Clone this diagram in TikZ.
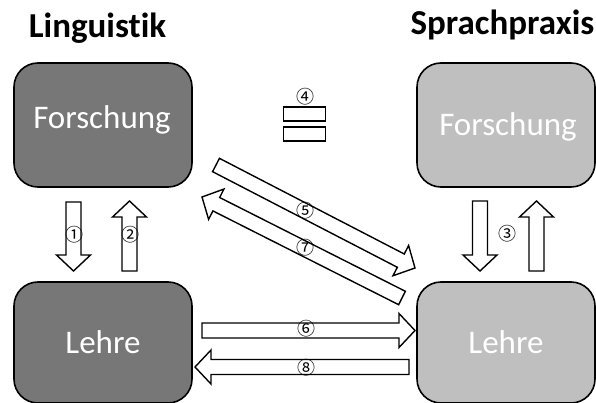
\documentclass[tikz,border=0pt]{standalone}
\usepackage{fontspec}
\setmainfont{Carlito}[Ligatures=NoCommon]
\newfontfamily\circfont{Noto Sans CJK SC}
\usetikzlibrary{calc}

\definecolor{darkbox}{HTML}{777777}
\definecolor{lightbox}{HTML}{BFBFBF}

% Block arrow from coordinate #1 (tail) to coordinate #2 (tip)
\newcommand{\BlockArrow}[2]{%
  \coordinate (hb) at ($(#2)!16pt!(#1)$);
  \draw[blockarrow]
    ($(#1)!7.5pt!90:(#2)$) -- ($(hb)!7.5pt!90:(#2)$) -- ($(hb)!17pt!90:(#2)$)
    -- (#2) -- ($(hb)!17pt!-90:(#2)$) -- ($(hb)!7.5pt!-90:(#2)$)
    -- ($(#1)!7.5pt!-90:(#2)$) -- cycle;%
}

\begin{document}
\begin{tikzpicture}[x=1pt,y=-1pt,
  box/.style={draw=black, line width=1.6pt, rounded corners=24pt},
  boxtext/.style={text=white, font=\fontsize{33}{33}\selectfont},
  title/.style={font=\fontsize{35}{35}\selectfont\bfseries, anchor=base},
  blockarrow/.style={draw=black, fill=white, line width=1.4pt, line join=miter},
  num/.style={font=\circfont\fontsize{18}{18}\selectfont, inner sep=0pt},
  eqbar/.style={draw=black, line width=1.4pt, fill=white}]

\useasboundingbox (0,0) rectangle (596,403);

% titles
\node[title] (tl) at (97.5,38) {Linguistik};
\node[title] (tr) at (502.5,35) {Sprachpraxis};

% boxes
\draw[box, fill=darkbox] (14,63) rectangle (192,187);
\draw[box, fill=darkbox] (14,282) rectangle (192,403);
\draw[box, fill=lightbox] (417,63) rectangle (595,187);
\draw[box, fill=lightbox] (417,282) rectangle (595,403);
\node[boxtext] (lf) at (102,120) {Forschung};
\node[boxtext] (ll) at (103,342) {Lehre};
\node[boxtext] (rf) at (508,127) {Forschung};
\node[boxtext] (rl) at (506,342) {Lehre};

% arrow end points
\coordinate (a1s) at (73.5,202);  \coordinate (a1e) at (73.5,271);
\coordinate (a2s) at (129.5,271); \coordinate (a2e) at (129.5,201);
\coordinate (a3s) at (480,201);   \coordinate (a3e) at (480,271);
\coordinate (a4s) at (536.5,271); \coordinate (a4e) at (536.5,201);
\coordinate (a5s) at (216,165);   \coordinate (a5e) at (415,268);
\coordinate (a7s) at (402,298);   \coordinate (a7e) at (202,197);
\coordinate (a6s) at (202,330.5); \coordinate (a6e) at (415,330.5);
\coordinate (a8s) at (409,367);   \coordinate (a8e) at (195,367);

\BlockArrow{a1s}{a1e}
\BlockArrow{a2s}{a2e}
\BlockArrow{a3s}{a3e}
\BlockArrow{a4s}{a4e}
\BlockArrow{a5s}{a5e}
\BlockArrow{a7s}{a7e}
\BlockArrow{a6s}{a6e}
\BlockArrow{a8s}{a8e}

% equals sign
\draw[eqbar] (283.5,107) rectangle (325.5,121);
\draw[eqbar] (283.5,127) rectangle (325.5,141);

% numbers
\node[num] (n1) at (74,235) {①};
\node[num] (n2) at (130,235) {②};
\node[num] (n3) at (507,234) {③};
\node[num] (n4) at (305,97) {④};
\node[num] (n5) at (305,211) {⑤};
\node[num] (n6) at (306,329) {⑥};
\node[num] (n7) at (305,248) {⑦};
\node[num] (n8) at (306,368) {⑧};
\end{tikzpicture}
\end{document}
